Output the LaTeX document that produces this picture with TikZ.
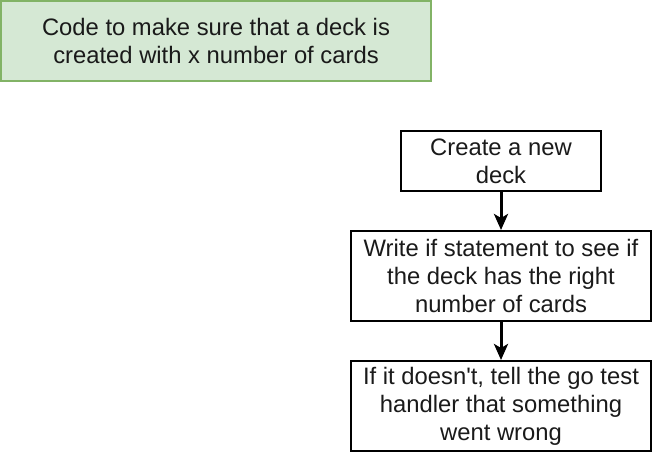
\documentclass[tikz,border=0pt]{standalone}
\usepackage{fontspec}
\newfontfamily\plainsans{Liberation Sans}
\usetikzlibrary{arrows.meta}
\definecolor{gfill}{HTML}{D5E8D4}
\definecolor{gline}{HTML}{82B366}
\definecolor{tcol}{HTML}{1A1A1A}
\begin{document}
\begin{tikzpicture}[x=1pt,y=-1pt,
  boxst/.style={draw=black,line width=2pt,fill=white,inner sep=0pt,align=center,
    font=\plainsans\fontsize{23.8}{28}\selectfont,text=tcol},
  notest/.style={boxst,draw=gline,fill=gfill},
  conn/.style={line width=3pt,-{Stealth[length=16pt,width=14pt,inset=4pt]}}]
\useasboundingbox (0,0) rectangle (652,452);
\node[notest,minimum width=430pt,minimum height=80pt] (note) at (216,41)
  {Code to make sure that a deck is\\created with x number of cards};
\node[boxst,minimum width=200pt,minimum height=60pt] (b1) at (501,161)
  {Create a new\\deck};
\node[boxst,minimum width=300pt,minimum height=90pt] (b2) at (501,276)
  {Write if statement to see if\\the deck has the right\\number of cards};
\node[boxst,minimum width=300pt,minimum height=90pt] (b3) at (501,406)
  {If it doesn't, tell the go test\\handler that something\\went wrong};
\draw[conn] (b1.south) -- (b2.north);
\draw[conn] (b2.south) -- (b3.north);
\end{tikzpicture}
\end{document}
